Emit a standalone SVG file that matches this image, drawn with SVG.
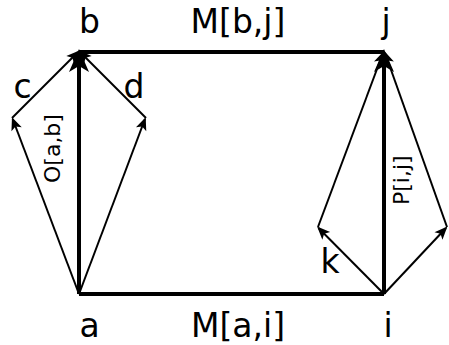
<svg xmlns="http://www.w3.org/2000/svg" width="449" height="345" viewBox="0 0 449 345">
<defs>
<style>
.lbl{font-family:"DejaVu Sans",sans-serif;font-size:33px;fill:#000;text-anchor:middle}
.rot{font-family:"DejaVu Sans",sans-serif;font-size:22px;fill:#000}
.thick{stroke:#000;stroke-width:4;fill:none}
.thin{stroke:#000;stroke-width:2;fill:none}
</style>
<marker id="hBig" markerUnits="userSpaceOnUse" orient="auto" markerWidth="40" markerHeight="40" refX="0" refY="0" viewBox="-20 -20 40 40" overflow="visible">
<path d="M10,0 L-13,-10 L-7,0 L-13,10 Z" fill="#000"/>
</marker>
<marker id="hSmall" markerUnits="userSpaceOnUse" orient="auto" markerWidth="30" markerHeight="30" refX="0" refY="0" viewBox="-15 -15 30 30" overflow="visible">
<path d="M2,0 L-11,-5.5 L-8,0 L-11,5.5 Z" fill="#000"/>
</marker>
</defs>
<g id="connectors">
<line class="thick" x1="79" y1="52" x2="384" y2="52"/>
<line class="thick" x1="79" y1="294" x2="384" y2="294"/>
<line class="thick" x1="79" y1="294" x2="79" y2="59" marker-end="url(#hBig)"/>
<line class="thick" x1="384" y1="294" x2="384" y2="59" marker-end="url(#hBig)"/>
<line class="thin" x1="79" y1="294" x2="12.7" y2="119" marker-end="url(#hSmall)"/>
<line class="thin" x1="12" y1="118" x2="78" y2="52" marker-end="url(#hSmall)"/>
<line class="thin" x1="79" y1="294" x2="145" y2="119" marker-end="url(#hSmall)"/>
<line class="thin" x1="146" y1="118" x2="80" y2="52" marker-end="url(#hSmall)"/>
<line class="thin" x1="384" y1="294" x2="318.5" y2="228" marker-end="url(#hSmall)"/>
<line class="thin" x1="318" y1="227" x2="383" y2="53" marker-end="url(#hSmall)"/>
<line class="thin" x1="384" y1="294" x2="446" y2="228" marker-end="url(#hSmall)"/>
<line class="thin" x1="447" y1="227" x2="385" y2="53" marker-end="url(#hSmall)"/>
</g>
<g id="node-b"><text class="lbl" x="89.5" y="33">b</text></g>
<g id="node-j"><text class="lbl" x="386" y="33">j</text></g>
<g id="node-a"><text class="lbl" x="89.5" y="337">a</text></g>
<g id="node-i"><text class="lbl" x="388" y="337">i</text></g>
<g id="node-c"><text class="lbl" x="22.5" y="98">c</text></g>
<g id="node-d"><text class="lbl" x="134" y="98">d</text></g>
<g id="node-k"><text class="lbl" x="330" y="273">k</text></g>
<g id="labels">
<text class="lbl" x="238" y="33">M[b,j]</text>
<text class="lbl" x="238" y="337">M[a,i]</text>
<text class="rot" transform="translate(59.5,183) rotate(-90)">O[a,b]</text>
<text class="rot" transform="translate(409,205) rotate(-90)">P[i,j]</text>
</g>
</svg>
